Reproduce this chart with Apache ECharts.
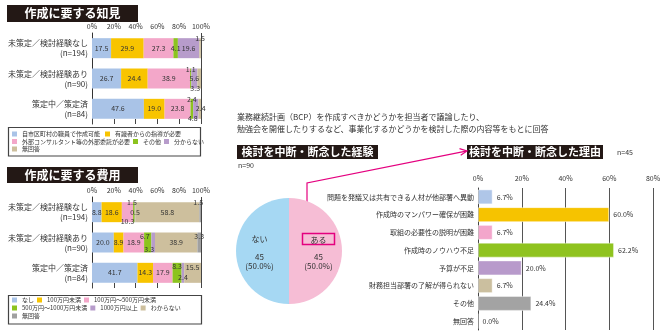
<!DOCTYPE html>
<html><head><meta charset="utf-8">
<script src="https://cdn.jsdelivr.net/npm/echarts@6/dist/echarts.min.js"></script>
<style>html,body{margin:0;padding:0;background:#fff}#c{width:670px;height:335px}</style>
</head><body><div id="c"></div>
<script>
const FONT = '"Noto Sans CJK JP", "Noto Sans", sans-serif';

// ---------- 作成に要する知見 ----------
const rowNames = ['未策定／検討経験なし', '未策定／検討経験あり', '策定中／策定済'];
const rowN = [194, 90, 84];
const knowNames = ['自市区町村の職員で作成可能', '有識者からの指導が必要', '外部コンサルタント等の外部委託が必要', 'その他', '分からない', '無回答'];
const knowStaff = [17.5, 26.7, 47.6];
const knowExpert = [29.9, 24.4, 19.0];
const knowOutsource = [27.3, 38.9, 23.8];
const knowOther = [4.1, 1.1, 2.4];
const knowUnknown = [19.6, 5.6, 4.8];
const knowNoAnswer = [1.5, 3.3, 2.4];

// ---------- 作成に要する費用 ----------
const costNames = ['なし', '100万円未満', '100万円～500万円未満', '500万円～1000万円未満', '1000万円以上', 'わからない', '無回答'];
const costNone = [8.8, 20.0, 41.7];
const costUnder100 = [18.6, 8.9, 14.3];
const cost100to500 = [10.3, 18.9, 17.9];
const cost500to1000 = [1.5, 6.7, 8.3];
const costOver1000 = [0.5, 3.3, 2.4];
const costUnknown = [58.8, 38.9, 15.5];
const costNoAnswer = [1.5, 3.3, 0.0];

const pctTicks = [0, 20, 40, 60, 80, 100];

// ---------- 検討を中断・断念した経験 ----------
const pieNames = ['ある', 'ない'];
const pieValues = [45, 45];
const pieN = 90;

// ---------- 検討を中断・断念した理由 ----------
const reasonNames = ['問題を発議又は共有できる人材が他部署へ異動', '作成時のマンパワー確保が困難', '取組の必要性の説明が困難', '作成時のノウハウ不足', '予算が不足', '財務担当部署の了解が得られない', 'その他', '無回答'];
const reasonValues = [6.7, 60.0, 6.7, 62.2, 20.0, 6.7, 24.4, 0.0];
const reasonN = 45;
const reasonTicks = [0, 20, 40, 60, 80];

// ---------- styles ----------
const knowColors = ['#a9c3e7', '#f8c400', '#f3a7c9', '#8cc31f', '#b79ccb', '#cdbf9d'];
const costColors = ['#a9c3e7', '#f8c400', '#f3a7c9', '#8cc31f', '#b79ccb', '#cdbf9d', '#a0a0a0'];
const reasonColors = ['#afc6e8', '#f6c300', '#f3a6cb', '#8fc31f', '#b89acb', '#cbbf9f', '#a3a3a3', '#cccccc'];

const knowLabelAdj = {
  '5-0': {position: 'top', distance: -4},
  '3-1': {position: 'top', distance: -4},
  '5-1': {position: 'bottom', distance: -4, offset: [-4, 0]},
  '3-2': {position: 'top', distance: -4},
  '4-2': {position: 'bottom', distance: -4, offset: [-3, 0]},
  '5-2': {position: 'inside', offset: [1, 0]}
};
const costLabelAdj = {
  '2-0': {position: 'bottom', distance: -4},
  '3-0': {position: 'top', distance: -4, offset: [-2, 0]},
  '6-0': {position: 'top', distance: -4, offset: [-2, 0]},
  '3-1': {position: 'insideTop', distance: 0, offset: [-3, 0]},
  '4-1': {position: 'insideBottom', distance: 0, offset: [-4, 0]},
  '6-1': {position: 'insideTop', distance: 0},
  '3-2': {position: 'insideTop', distance: 0},
  '4-2': {position: 'insideBottom', distance: 2},
  '5-2': {position: 'insideTop', distance: 1}
};

function stackSeries(names, lists, colors, axisIdx, stack, adj) {
  return names.map((nm, si) => ({
    name: nm, type: 'bar', stack: stack,
    xAxisIndex: axisIdx, yAxisIndex: axisIdx,
    barWidth: 20,
    itemStyle: {color: colors[si]},
    label: {show: true, position: 'inside', fontSize: 7, color: '#333', fontFamily: FONT,
      formatter: p => (p.value > 0 ? p.value.toFixed(1) : '')},
    data: lists[si].map((v, ri) => {
      const o = adj[si + '-' + ri];
      return o ? {value: v, label: o} : v;
    })
  }));
}

const rowLabels = rowNames.map((r, i) => r + '\n(n=' + rowN[i] + ')');

function stackAxes(gridIdx) {
  const x = [{
    gridIndex: gridIdx, type: 'value', position: 'top', min: 0, max: 100, interval: 20,
    axisLine: {show: false}, axisTick: {show: false},
    axisLabel: {fontSize: 7, color: '#333', margin: 3, formatter: '{value}%'},
    splitLine: {show: true, lineStyle: {color: ['rgba(0,0,0,0)', 'rgba(0,0,0,0)', 'rgba(0,0,0,0)', 'rgba(0,0,0,0)', 'rgba(0,0,0,0)', '#444'], width: 1}}
  }, {
    gridIndex: gridIdx, type: 'value', position: 'bottom', min: 0, max: 100, interval: 20,
    axisLine: {show: false}, axisLabel: {show: false}, splitLine: {show: false},
    axisTick: {show: true, inside: true, length: 5, lineStyle: {color: '#444'}}
  }];
  const y = {
    gridIndex: gridIdx, type: 'category', inverse: true, data: rowLabels,
    axisLine: {show: true, lineStyle: {color: '#333', width: 1}}, axisTick: {show: false},
    axisLabel: {fontSize: 8, color: '#333', lineHeight: 10, margin: 4, align: 'right'}
  };
  return {x, y};
}

const A1 = stackAxes(0), A2 = stackAxes(1);

function legendRow(names, colors, left, top, gap) {
  return {
    left: left, top: top, orient: 'horizontal', padding: 0, itemGap: gap,
    itemWidth: 5, itemHeight: 5, icon: 'rect',
    textStyle: {fontSize: 6, color: '#333', fontFamily: FONT},
    selectedMode: false,
    data: names.map((n, i) => ({name: n, itemStyle: {color: colors[i]}}))
  };
}

const option = {
  animation: false,
  backgroundColor: '#fff',
  textStyle: {fontFamily: FONT},
  grid: [
    {left: 92, width: 109, top: 33, height: 91, outerBoundsMode: 'none', containLabel: false},
    {left: 92, width: 109, top: 197, height: 91, outerBoundsMode: 'none', containLabel: false},
    {left: 478, right: 17, top: 188, bottom: 5, outerBoundsMode: 'none', containLabel: false}
  ],
  xAxis: [A1.x[0], A2.x[0], {
    gridIndex: 2, type: 'value', position: 'top', min: 0, max: 80, interval: 20,
    axisLine: {show: false}, axisTick: {show: false},
    axisLabel: {fontSize: 7, color: '#333', margin: 6, formatter: '{value}%'},
    splitLine: {show: true, lineStyle: {color: '#555', width: 1}}
  }, A1.x[1], A2.x[1]],
  yAxis: [A1.y, A2.y, {
    gridIndex: 2, type: 'category', inverse: true, data: reasonNames,
    axisLine: {show: true, lineStyle: {color: '#444', width: 1}}, axisTick: {show: false},
    axisLabel: {fontSize: 7, color: '#333', margin: 4}
  }],
  legend: [
    legendRow(knowNames.slice(0, 2), knowColors.slice(0, 2), 12, 131, 5),
    legendRow(knowNames.slice(2, 5), knowColors.slice(2, 5), 12, 138.5, 3),
    legendRow(knowNames.slice(5), knowColors.slice(5), 12, 146, 3),
    legendRow(costNames.slice(0, 3), costColors.slice(0, 3), 12, 297, 3),
    legendRow(costNames.slice(3, 6), costColors.slice(3, 6), 12, 305, 3),
    legendRow(costNames.slice(6), costColors.slice(6), 12, 313, 3)
  ],
  series: [
    ...stackSeries(knowNames, [knowStaff, knowExpert, knowOutsource, knowOther, knowUnknown, knowNoAnswer], knowColors, 0, 'know', knowLabelAdj),
    ...stackSeries(costNames, [costNone, costUnder100, cost100to500, cost500to1000, costOver1000, costUnknown, costNoAnswer], costColors, 1, 'cost', costLabelAdj),
    {
      type: 'bar', xAxisIndex: 2, yAxisIndex: 2, barWidth: 15,
      data: reasonValues.map((v, i) => ({value: v, itemStyle: {color: reasonColors[i], borderColor: 'rgba(255,255,255,0.45)', borderWidth: 1}})),
      label: {show: true, position: 'right', distance: 4, fontSize: 7, color: '#333',
        formatter: p => p.value.toFixed(1) + '%'}
    },
    {
      type: 'pie', center: [289, 251], radius: 53, startAngle: 90, clockwise: true,
      labelLine: {show: false},
      data: pieNames.map((n, i) => ({name: n, value: pieValues[i],
        itemStyle: {color: i === 0 ? '#f6bdd5' : '#a6d8f3'}})),
      label: {
        show: true, position: 'inner', color: '#333',
        formatter: p => (p.name === 'ある' ? '{box|' + p.name + '}' : '{n|' + p.name + '}') +
          '\n{g| }\n{v|' + p.value + '}\n{v|(' + p.percent.toFixed(1) + '%)}',
        rich: {
          n: {fontSize: 8, lineHeight: 15, color: '#333'},
          box: {fontSize: 8, lineHeight: 15, color: '#333', borderColor: '#e4007f', borderWidth: 1.5, padding: [2, 8, 1, 8]},
          g: {fontSize: 4, lineHeight: 6, height: 6},
          v: {fontSize: 8, lineHeight: 9, color: '#333'}
        }
      }
    }
  ],
  graphic: [
    {type: 'rect', shape: {x: 7, y: 5, width: 131, height: 17}, style: {fill: '#231815'}},
    {type: 'text', x: 72.5, y: 13.5, style: {text: '作成に要する知見', fill: '#fff', font: 'bold 12px ' + FONT, align: 'center', verticalAlign: 'middle'}},
    {type: 'rect', shape: {x: 7, y: 167, width: 131, height: 16}, style: {fill: '#231815'}},
    {type: 'text', x: 72.5, y: 175, style: {text: '作成に要する費用', fill: '#fff', font: 'bold 12px ' + FONT, align: 'center', verticalAlign: 'middle'}},
    {type: 'rect', shape: {x: 8.5, y: 127.5, width: 192, height: 28.5}, style: {fill: 'none', stroke: '#444', lineWidth: 1.2}},
    {type: 'rect', shape: {x: 8.5, y: 295.5, width: 193, height: 28.5}, style: {fill: 'none', stroke: '#444', lineWidth: 1.2}},
    {type: 'text', x: 237, y: 117, style: {text: '業務継続計画（BCP）を作成すべきかどうかを担当者で議論したり、', fill: '#333', font: '8px ' + FONT, verticalAlign: 'middle'}},
    {type: 'text', x: 237, y: 128.5, style: {text: '勉強会を開催したりするなど、事業化するかどうかを検討した際の内容等をもとに回答', fill: '#333', font: '8px ' + FONT, verticalAlign: 'middle'}},
    {type: 'rect', shape: {x: 237, y: 145, width: 141, height: 14}, style: {fill: '#231815'}},
    {type: 'text', x: 307.5, y: 152, style: {text: '検討を中断・断念した経験', fill: '#fff', font: 'bold 11px ' + FONT, align: 'center', verticalAlign: 'middle'}},
    {type: 'rect', shape: {x: 467, y: 145, width: 136, height: 14}, style: {fill: '#231815'}},
    {type: 'text', x: 535, y: 152, style: {text: '検討を中断・断念した理由', fill: '#fff', font: 'bold 11px ' + FONT, align: 'center', verticalAlign: 'middle'}},
    {type: 'text', x: 238, y: 165, style: {text: 'n=' + pieN, fill: '#333', font: '7px ' + FONT, verticalAlign: 'middle'}},
    {type: 'text', x: 617, y: 152, style: {text: 'n=' + reasonN, fill: '#333', font: '7px ' + FONT, verticalAlign: 'middle'}},
    {type: 'polyline', shape: {points: [[307, 231], [307, 183], [466, 151.2]]}, style: {stroke: '#e4007f', lineWidth: 1.2, fill: 'none'}},
    {type: 'polyline', shape: {points: [[460.7, 155.3], [467, 151], [459.5, 148.6]]}, style: {stroke: '#e4007f', lineWidth: 1.2, fill: 'none'}}
  ]
};

const chart = echarts.init(document.getElementById('c'), null, {renderer: 'canvas'});
chart.setOption(option);
</script>
</body></html>
